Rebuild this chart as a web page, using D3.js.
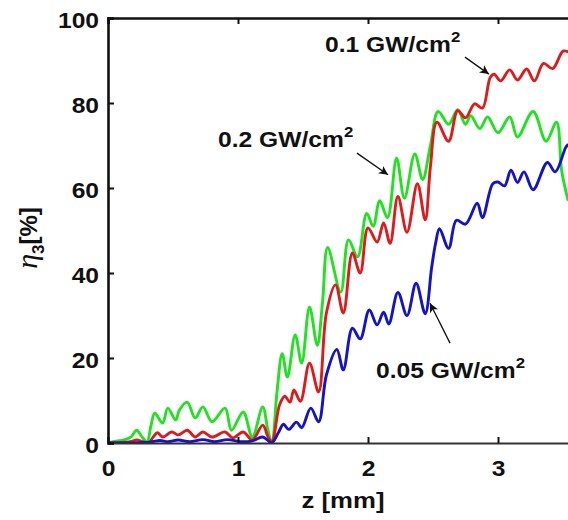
<!DOCTYPE html>
<html>
<head>
<meta charset="utf-8">
<script src="https://cdn.jsdelivr.net/npm/d3@7"></script>
<style>
  body { margin: 0; background: #fff; }
  svg text { font-family: "Liberation Sans", Arial, sans-serif; font-weight: bold; fill: #111; }
</style>
</head>
<body>
<div id="chart"></div>
<script>
// values: [z in mm, eta3 in %]
var green02 = [[0,0],[0.04,0.3],[0.13,0.8],[0.18,1.5],[0.22,3],[0.26,1.5],[0.30,0.3],
  [0.33,4],[0.36,7],[0.42,4.7],[0.46,8.2],[0.52,5.4],[0.55,7.8],[0.61,9.6],
  [0.67,5.9],[0.73,8.5],[0.80,5],[0.90,8.2],[0.95,3],[1.04,7.3],[1.11,1.4],
  [1.19,8.5],[1.23,3],[1.26,0.2],[1.30,12],[1.34,21],[1.38,15.5],[1.44,25.4],
  [1.49,18.8],[1.55,32],[1.61,23],[1.65,33],[1.69,46],[1.79,35.5],[1.85,47.8],
  [1.92,43.8],[1.99,54],[2.04,51],[2.09,57],[2.15,53],[2.22,67],[2.28,57.6],
  [2.36,68],[2.42,62],[2.48,70],[2.54,78],[2.62,75],[2.69,78.4],[2.75,75],
  [2.79,77],[2.86,74],[2.92,76.7],[3.00,73],[3.09,76.7],[3.15,72],[3.27,78],
  [3.37,71],[3.45,75.5],[3.49,64],[3.54,57]];

var red01 = [[0,0],[0.17,0.3],[0.22,0.7],[0.27,0.3],[0.31,0],[0.35,1.5],[0.38,2.4],
  [0.42,1.4],[0.49,2.6],[0.54,1.9],[0.61,3],[0.67,1.4],[0.73,2.6],[0.80,1.4],
  [0.90,2.6],[0.96,1.2],[1.04,2.6],[1.11,0.7],[1.19,4.2],[1.23,1.5],[1.26,0.2],
  [1.32,9],[1.36,11],[1.40,9.6],[1.43,12.5],[1.48,9.8],[1.55,18.8],[1.62,12],
  [1.68,30.6],[1.75,37.2],[1.81,30.6],[1.88,44.7],[1.94,40],[2.00,50.6],[2.07,47.3],
  [2.12,51.8],[2.17,47],[2.23,58],[2.30,49.6],[2.38,61],[2.44,52.5],[2.48,65],
  [2.53,75.5],[2.62,71],[2.69,78.2],[2.75,76.5],[2.82,79.8],[2.88,78.8],[2.94,86],
  [2.97,86.8],[3.02,85.2],[3.09,87.8],[3.15,85.4],[3.22,88],[3.28,85.2],[3.35,89.3],
  [3.42,88.1],[3.50,92.2],[3.54,92]];

var blue005 = [[0,0],[0.32,0.2],[0.40,0.6],[0.46,0.3],[0.54,0.7],[0.63,0.3],[0.73,0.8],
  [0.82,0.3],[0.92,0.8],[1.02,0.3],[1.11,0.5],[1.19,1.4],[1.26,0.1],[1.31,2.4],
  [1.35,4.4],[1.39,3.2],[1.45,4.9],[1.49,3.6],[1.56,8.2],[1.62,5],[1.68,16],
  [1.76,22],[1.81,17.2],[1.88,27],[1.94,24.5],[2.01,31.3],[2.07,27.8],[2.12,30.8],
  [2.16,28],[2.23,35.4],[2.30,30],[2.37,37.6],[2.44,30.4],[2.49,41.4],[2.52,47],
  [2.55,50.4],[2.62,45.8],[2.68,52.4],[2.75,51.5],[2.84,56.4],[2.88,53],[2.96,61],
  [3.00,61.4],[3.05,60.5],[3.10,64.2],[3.15,61.3],[3.20,63.8],[3.27,59.6],[3.38,66],
  [3.44,63.8],[3.52,69.5],[3.54,70.3]];

var seriesNames = ["0.2 GW/cm", "0.1 GW/cm", "0.05 GW/cm"];
var xTicks = [0, 1, 2, 3];
var yTicks = [0, 20, 40, 60, 80, 100];

// set the dimensions and margins of the graph
var W = 568, H = 520;
var margin = {top: 18, left: 108, bottom: 77};
var plotW = 520, plotH = H - margin.top - margin.bottom;

var svg = d3.select("#chart")
  .append("svg")
    .attr("width", W)
    .attr("height", H);

var x = d3.scaleLinear().domain([0, 4]).range([margin.left, margin.left + plotW]);
var y = d3.scaleLinear().domain([0, 100]).range([margin.top + plotH, margin.top]);

var stretch = "scale(1.12,1)";

svg.append("clipPath").attr("id", "plotclip")
  .append("rect")
    .attr("x", margin.left).attr("y", margin.top - 2)
    .attr("width", plotW).attr("height", plotH + 2);

// curves
var line = d3.line()
  .x(function(d) { return x(d[0]); })
  .y(function(d) { return y(d[1]); })
  .curve(d3.curveCatmullRom.alpha(0.5));

var curves = [
  {data: green02, color: "#22e022"},
  {data: red01, color: "#dc1c1c"},
  {data: blue005, color: "#1414c4"}
];

svg.append("g").attr("clip-path", "url(#plotclip)")
  .selectAll("path")
  .data(curves)
  .enter()
  .append("path")
    .attr("d", function(d) { return line(d.data); })
    .attr("fill", "none")
    .attr("stroke", function(d) { return d.color; })
    .attr("stroke-width", 2.9)
    .attr("stroke-linejoin", "round");

// axes, ticks pointing inward like matlab
var xAxis = d3.axisBottom(x).tickValues(xTicks).tickSize(-6).tickPadding(17).tickFormat(d3.format("d"));
var xTop = d3.axisTop(x).tickValues(xTicks).tickSize(-6).tickFormat("");
var yAxis = d3.axisLeft(y).tickValues(yTicks).tickSize(-6).tickPadding(8).tickFormat(d3.format("d"));

var gx = svg.append("g")
    .attr("transform", "translate(0," + y(0) + ")")
    .call(xAxis);
var gt = svg.append("g")
    .attr("transform", "translate(0," + y(100) + ")")
    .call(xTop);
var gy = svg.append("g")
    .attr("transform", "translate(" + x(0) + ",0)")
    .call(yAxis);

[gx, gt, gy].forEach(function(g) {
  g.select(".domain").attr("stroke", "#111").attr("stroke-width", 2.6);
  g.selectAll(".tick line").attr("stroke", "#111").attr("stroke-width", 2);
  g.selectAll(".tick text").attr("font-size", 22).attr("fill", "#111")
    .attr("transform", stretch);
});
gx.select(".domain").attr("stroke", "#333").attr("stroke-width", 2);
gy.selectAll(".tick text").attr("dy", "0.45em");

// axis titles
svg.append("text")
    .attr("transform", "translate(343,508) " + stretch)
    .attr("text-anchor", "middle")
    .attr("font-size", 23)
    .text("z [mm]");

var yl = svg.append("text")
    .attr("transform", "translate(37,238) rotate(-90)")
    .attr("text-anchor", "middle")
    .attr("font-size", 24);
yl.append("tspan")
    .style("font-family", "'Liberation Serif', 'DejaVu Serif', serif")
    .style("font-style", "italic")
    .style("font-weight", "normal")
    .attr("font-size", 30)
    .text("\u03b7");
yl.append("tspan").attr("font-size", 17).attr("dy", 7).text("3");
yl.append("tspan").attr("dy", -7).text("[%]");

// annotations: label start, arrow tail and head, in data units
var notes = [
  {name: seriesNames[1], at: [1.669, 92.0], from: [2.746, 90.8], to: [2.93, 86.8]},
  {name: seriesNames[0], at: [0.846, 69.6], from: [1.915, 68.2], to: [2.154, 63.1]},
  {name: seriesNames[2], at: [2.062, 15.3], from: [2.631, 23.5], to: [2.477, 32.9]}
];

svg.append("defs").append("marker")
    .attr("id", "head")
    .attr("viewBox", "0 0 10 10")
    .attr("refX", 10).attr("refY", 5)
    .attr("markerWidth", 11).attr("markerHeight", 9)
    .attr("markerUnits", "userSpaceOnUse")
    .attr("orient", "auto")
  .append("path")
    .attr("d", "M0,0 L10,5 L0,10 L2.5,5 Z")
    .attr("fill", "#111");

svg.selectAll(".arrow")
  .data(notes)
  .enter()
  .append("line")
    .attr("class", "arrow")
    .attr("x1", function(d) { return x(d.from[0]); })
    .attr("y1", function(d) { return y(d.from[1]); })
    .attr("x2", function(d) { return x(d.to[0]); })
    .attr("y2", function(d) { return y(d.to[1]); })
    .attr("stroke", "#111")
    .attr("stroke-width", 1.3)
    .attr("marker-end", "url(#head)");

var lab = svg.selectAll(".note")
  .data(notes)
  .enter()
  .append("text")
    .attr("class", "note")
    .attr("transform", function(d) { return "translate(" + x(d.at[0]) + "," + y(d.at[1]) + ") " + stretch; })
    .attr("font-size", 22);
lab.append("tspan").text(function(d) { return d.name; });
lab.append("tspan").attr("font-size", 15).attr("dy", -10).text("2");
</script>
</body>
</html>
